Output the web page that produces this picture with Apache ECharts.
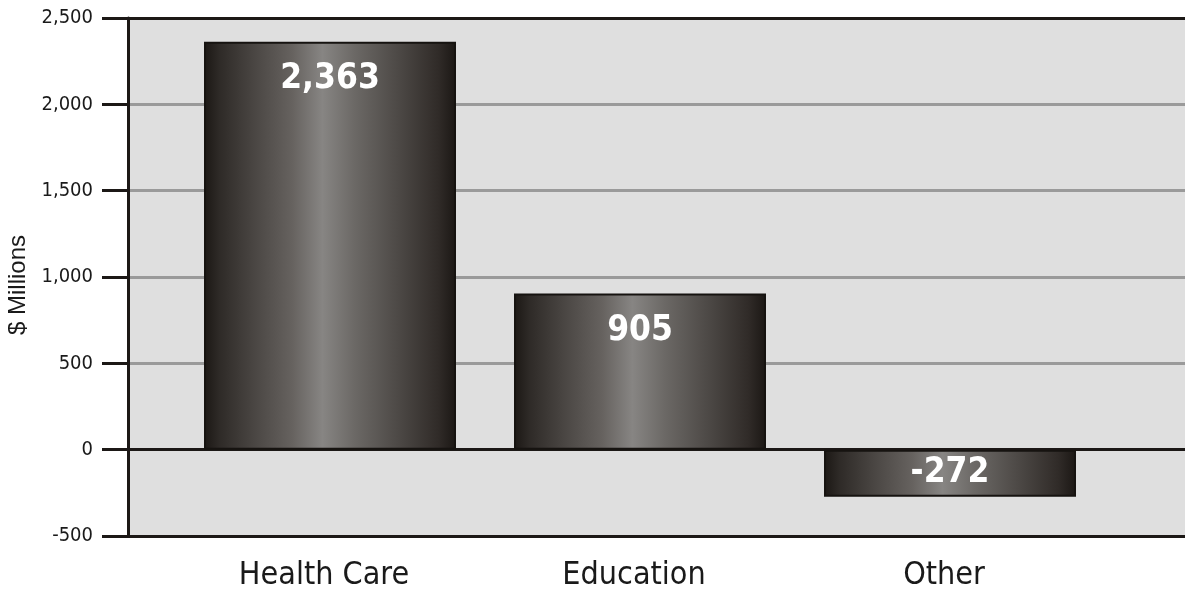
<!DOCTYPE html>
<html>
<head>
<meta charset="utf-8">
<script src="https://cdn.jsdelivr.net/npm/echarts@6/dist/echarts.min.js"></script>
<style>
  html, body { margin: 0; padding: 0; background: #ffffff; }
  #chart { width: 1185px; height: 592px; }
</style>
</head>
<body>
<div id="chart"></div>
<script>
// Spending change by sector, $ millions
const categories = ['Health Care', 'Education', 'Other'];
const values = [2363, 905, -272];
const yTicks = { min: -500, max: 2500, step: 500 };

const INK = '#1c1816';
const narrow = '"DejaVu Sans Condensed", "Liberation Sans", Arial, sans-serif';

// metallic cylinder-like shading across each bar
const barFill = {
  type: 'linear', x: 0, y: 0, x2: 1, y2: 0,
  colorStops: [
    { offset: 0.00, color: '#1b1714' },
    { offset: 0.06, color: '#2e2a27' },
    { offset: 0.20, color: '#4a4643' },
    { offset: 0.35, color: '#66625f' },
    { offset: 0.47, color: '#878583' },
    { offset: 0.60, color: '#6b6865' },
    { offset: 0.78, color: '#4b4744' },
    { offset: 0.93, color: '#302b28' },
    { offset: 1.00, color: '#1b1714' }
  ]
};

const seriesData = values.map(v => v < 0
  ? { value: v, label: { position: 'inside' } }
  : { value: v });

// split lines: black at -500, 0 and 2500; grey elsewhere
const lineColors = [];
for (let t = yTicks.min; t <= yTicks.max; t += yTicks.step) {
  lineColors.push(t === 0 || t === yTicks.min || t === yTicks.max ? INK : '#9a9a9a');
}

const chart = echarts.init(document.getElementById('chart'), null, { renderer: 'canvas' });
chart.setOption({
  animation: false,
  grid: [
    { left: 128, right: 0, top: 18, bottom: 56, show: true, backgroundColor: '#dfdfdf', borderWidth: 0, containLabel: false, outerBoundsMode: 'none' },
    { left: 175, right: 80, top: 18, bottom: 56, containLabel: false, outerBoundsMode: 'none' }
  ],
  xAxis: [
    {
      gridIndex: 0, type: 'value', min: 0, max: 1,
      axisLine: { show: true, onZero: true, lineStyle: { color: INK, width: 3 } },
      axisTick: { show: false }, axisLabel: { show: false }, splitLine: { show: false }
    },
    {
      gridIndex: 1, type: 'category', data: categories,
      axisLine: { show: false, onZero: false }, axisTick: { show: false },
      axisLabel: { margin: 24, fontSize: 32, fontFamily: narrow, color: '#1a1a1a', padding: [0, 12, 0, 0] }
    }
  ],
  yAxis: [
    {
      gridIndex: 0, type: 'value', min: yTicks.min, max: yTicks.max, interval: yTicks.step,
      name: '$ Millions', nameLocation: 'middle', nameGap: 95, nameRotate: 90,
      nameTextStyle: { fontSize: 24, fontFamily: '"Liberation Sans"', color: '#1a1a1a', padding: [0, 16, 0, 0] },
      axisLine: { show: true, lineStyle: { color: INK, width: 3 } },
      axisTick: { show: true, length: 26, lineStyle: { color: INK, width: 3 } },
      axisLabel: {
        margin: 35, fontSize: 20, fontFamily: narrow, color: '#1a1a1a',
        formatter: v => v.toLocaleString('en-US')
      },
      splitLine: { show: true, lineStyle: { color: lineColors, width: 3 } }
    },
    {
      gridIndex: 1, type: 'value', min: yTicks.min, max: yTicks.max, interval: yTicks.step,
      show: false
    }
  ],
  series: [{
    type: 'bar',
    xAxisIndex: 1, yAxisIndex: 1,
    data: seriesData,
    barWidth: 252,
    itemStyle: { color: barFill, borderColor: '#161310', borderWidth: 2 },
    label: {
      show: true, position: 'insideTop', distance: 20,
      fontSize: 35, fontWeight: 'bold', fontFamily: narrow, color: '#ffffff',
      formatter: p => p.value.toLocaleString('en-US')
    }
  }]
});
</script>
</body>
</html>
